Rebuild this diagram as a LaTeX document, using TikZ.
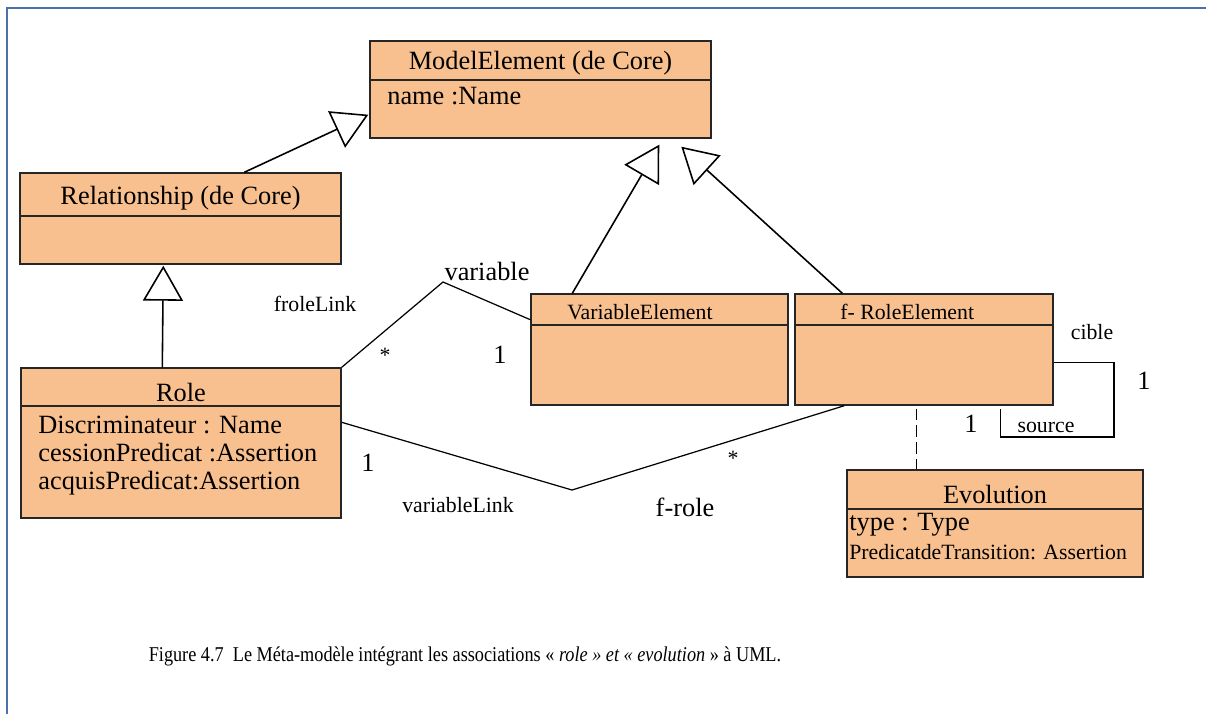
\documentclass[tikz,border=0pt]{standalone}
\usepackage{fontspec}
\setmainfont{Liberation Serif}
\newfontfamily\captionfont[FakeStretch=0.865]{Liberation Serif}
\usetikzlibrary{arrows.meta,positioning,fit,calc}

\definecolor{classfill}{RGB}{248,192,142}
\definecolor{framecol}{RGB}{74,114,170}

\begin{document}
\begin{tikzpicture}[
    x=0.02cm, y=-0.02cm,
    cls/.style={draw=black!85, fill=classfill, line width=0.8pt, inner sep=0pt},
    title/.style={inner sep=0pt, font=\fontsize{15}{18}\selectfont},
    attr/.style={anchor=west, inner sep=0pt, font=\fontsize{15}{18}\selectfont},
    small/.style={inner sep=0pt, font=\fontsize{12.4}{15}\selectfont},
    mult/.style={inner sep=0pt, font=\fontsize{15}{18}\selectfont},
    gen/.style={-{Triangle[open, length=0.7cm, width=0.8cm]}, line width=0.9pt},
    assoc/.style={line width=0.7pt}
]
\useasboundingbox (0,0) rectangle (1206,714);
\draw[framecol, line width=1.1pt] (7,714) -- (7,8) -- (1206,8);

% classes: header + body
\node[cls, fit={(370,41) (711,80)}] (me) {};
\node[cls, fit={(370,80) (711,138)}] (meb) {};
\node[title] (metitle) at ($(me.center)+(0,3)$) {ModelElement (de Core)};
\node[attr] at (387,96) {name :Name};

\node[cls, fit={(20,173) (341,216)}] (rel) {};
\node[cls, fit={(20,216) (341,264)}] (relb) {};
\node[title] (reltitle) at ($(rel.center)+(0,4)$) {Relationship (de Core)};

\node[cls, fit={(21,368) (341,406)}] (role) {};
\node[cls, fit={(21,406) (341,518)}] (roleb) {};
\node[title] (roletitle) at ($(role.center)+(0,5)$) {Role};
\node[attr] at (38,425) {Discriminateur : Name};
\node[attr] at (38,453) {cessionPredicat :Assertion};
\node[attr] at (38,483) {acquisPredicat:Assertion};

\node[cls, fit={(531,294) (788,325)}] (var) {};
\node[cls, fit={(531,325) (788,405)}] (varb) {};
\node[small, anchor=west] (vartitle) at (567,312) {VariableElement};

\node[cls, fit={(795,294) (1053,325)}] (frole) {};
\node[cls, fit={(795,325) (1053,405)}] (froleb) {};
\node[small, anchor=west] (froletitle) at (840,312) {f- RoleElement};

\node[cls, fit={(847,470) (1143,509)}] (evo) {};
\node[cls, fit={(847,509) (1143,577)}] (evob) {};
\node[title] (evotitle) at ($(evo.center)+(0,5)$) {Evolution};
\node[attr] at (849,525) {type : Type};
\node[small, anchor=west] at (849,552) {PredicatdeTransition: Assertion};

% generalisations
\draw[gen] ($(role.north west)+(142,0)$) -- ($(relb.south west)+(144,1)$);
\draw[gen] ($(rel.north west)+(225,0)$) -- ($(meb.south west)+(-1,-24)$);
\draw[gen] ($(var.north west)+(42,0)$) -- ($(meb.south west)+(290,6)$);
\draw[gen] ($(frole.north west)+(48,0)$) -- ($(meb.south west)+(312,8)$);

% associations
\coordinate (vbend) at (443,282);
\coordinate (rbend) at (572,490);
\coordinate (loop) at (1114,437);
\draw[assoc] (role.north east) -- (vbend) -- ($(var.south west)+(0,-6)$);
\draw[assoc] ($(roleb.north east)+(0,17)$) -- (rbend) -- ($(froleb.south west)+(50,0)$);
\draw[assoc] ($(froleb.north east)+(0,38)$) -| (loop) -| ($(froleb.south west)+(206,3)$);
\draw[assoc, dash pattern=on 6.5pt off 3pt] ($(froleb.south west)+(122,3)$) -- ($(evo.north west)+(70,0)$);

\node[mult] at (487,271) {variable};
\node[small] at (315,304) {froleLink};
\node[small] at (385,355) {*};
\node[mult] at (500,355) {1};
\node[mult] at (368,463) {1};
\node[small] at (458,505) {variableLink};
\node[mult] at (685,507) {f-role};
\node[small] at (733,458) {*};
\node[small] at (1092,332) {cible};
\node[mult] at (1144,381) {1};
\node[mult] at (971,424) {1};
\node[small] at (1046,427) {source};

\node[inner sep=0pt, font=\captionfont\fontsize{12}{14}\selectfont] (cap) at (465,656)
    {Figure 4.7\ \ Le Méta-modèle intégrant les associations « \textit{role » et « evolution} » à UML.};
\end{tikzpicture}
\end{document}
